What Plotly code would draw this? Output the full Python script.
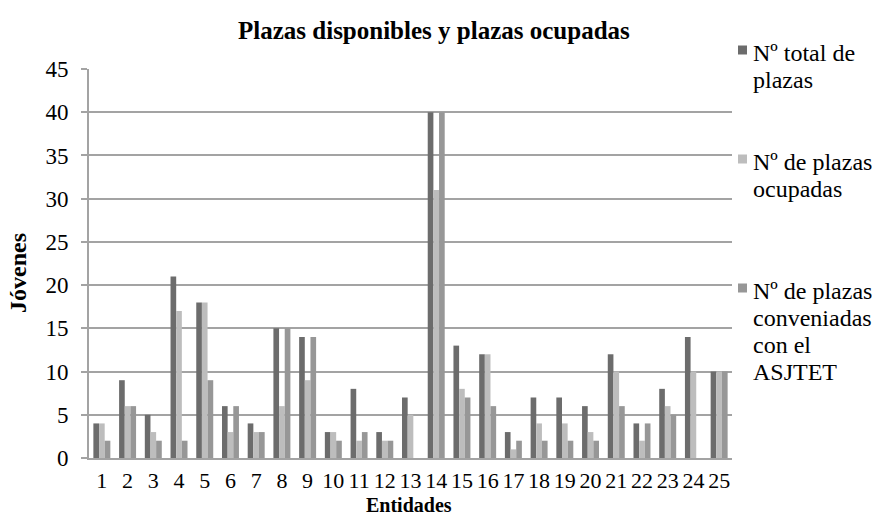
import plotly.graph_objects as go

categories = [str(i) for i in range(1, 26)]
total_plazas = [4, 9, 5, 21, 18, 6, 4, 15, 14, 3, 8, 3, 7, 40, 13, 12, 3, 7, 7, 6, 12, 4, 8, 14, 10]
plazas_ocupadas = [4, 6, 3, 17, 18, 3, 3, 6, 9, 3, 2, 2, 5, 31, 8, 12, 1, 4, 4, 3, 10, 2, 6, 10, 10]
plazas_conveniadas = [2, 6, 2, 2, 9, 6, 3, 15, 14, 2, 3, 2, 0, 40, 7, 6, 2, 2, 2, 2, 6, 4, 5, 0, 10]
y_ticks = [0, 5, 10, 15, 20, 25, 30, 35, 40, 45]

series_names = ["Nº total de plazas", "Nº de plazas ocupadas", "Nº de plazas conveniadas con el ASJTET"]
legend_lines = [["Nº total de", "plazas"], ["Nº de plazas", "ocupadas"],
                ["Nº de plazas", "conveniadas", "con el", "ASJTET"]]
colors = ["#6c6c6c", "#bdbdbd", "#979797"]

W, H = 872, 516
L, R, T, B = 89, 732, 69, 458
FONT = "Liberation Serif, Times New Roman, serif"

def px(xp):
    return (xp - L) / (R - L)

def py(yp):
    return (B - yp) / (B - T)

fig = go.Figure()
for name, vals, col in zip(series_names, [total_plazas, plazas_ocupadas, plazas_conveniadas], colors):
    fig.add_trace(go.Bar(x=categories, y=vals, name=name, marker=dict(color=col, line=dict(width=0)),
                         showlegend=False))

grid = "#a3a3a3"
fig.update_layout(
    width=W, height=H,
    margin=dict(l=L, r=W - R, t=T, b=H - B, pad=0, autoexpand=False),
    paper_bgcolor="white", plot_bgcolor="white",
    barmode="group", bargap=0.34, bargroupgap=0,
    font=dict(family=FONT, size=22, color="black"),
    xaxis=dict(type="category", tickmode="array", tickvals=categories, ticktext=categories,
               showline=True, linecolor=grid, linewidth=2, ticks="",
               showgrid=False, ticklabelstandoff=2, automargin=False,
               tickfont=dict(family=FONT, size=22, color="black")),
    yaxis=dict(range=[0, 45], tickvals=y_ticks, showline=True, linecolor=grid, linewidth=2,
               ticks="outside", ticklen=6, tickwidth=2, tickcolor=grid,
               showgrid=True, gridcolor=grid, gridwidth=2, zeroline=False,
               ticklabelstandoff=8, automargin=False,
               tickfont=dict(family=FONT, size=23, color="black")),
)

annotations = [
    dict(text="<b>Plazas disponibles y plazas ocupadas</b>", x=px(434), y=py(30), xref="paper", yref="paper",
         xanchor="center", yanchor="middle", showarrow=False, font=dict(family=FONT, size=25)),
    dict(text="<b>Jóvenes</b>", x=px(18), y=py(273), xref="paper", yref="paper", textangle=-90,
         xanchor="center", yanchor="middle", showarrow=False, font=dict(family=FONT, size=24)),
    dict(text="<b>Entidades</b>", x=px(409), y=py(505), xref="paper", yref="paper",
         xanchor="center", yanchor="middle", showarrow=False, font=dict(family=FONT, size=20)),
]

shapes = []
first_line_y = [53, 162, 291]
line_h = 27
for lines, col, y0 in zip(legend_lines, colors, first_line_y):
    shapes.append(dict(type="rect", xref="paper", yref="paper", x0=px(738), x1=px(747),
                       y0=py(y0 + 1.5), y1=py(y0 - 7.5), fillcolor=col, line=dict(width=0)))
    for k, ln in enumerate(lines):
        annotations.append(dict(text=ln, x=px(751), y=py(y0 + k * line_h), xref="paper", yref="paper",
                                xanchor="left", yanchor="middle", showarrow=False,
                                font=dict(family=FONT, size=24)))

fig.update_layout(annotations=annotations, shapes=shapes)
fig.write_html("out.html", config={"displayModeBar": False},
               post_script="document.body.style.margin='0';document.body.style.padding='0';")
